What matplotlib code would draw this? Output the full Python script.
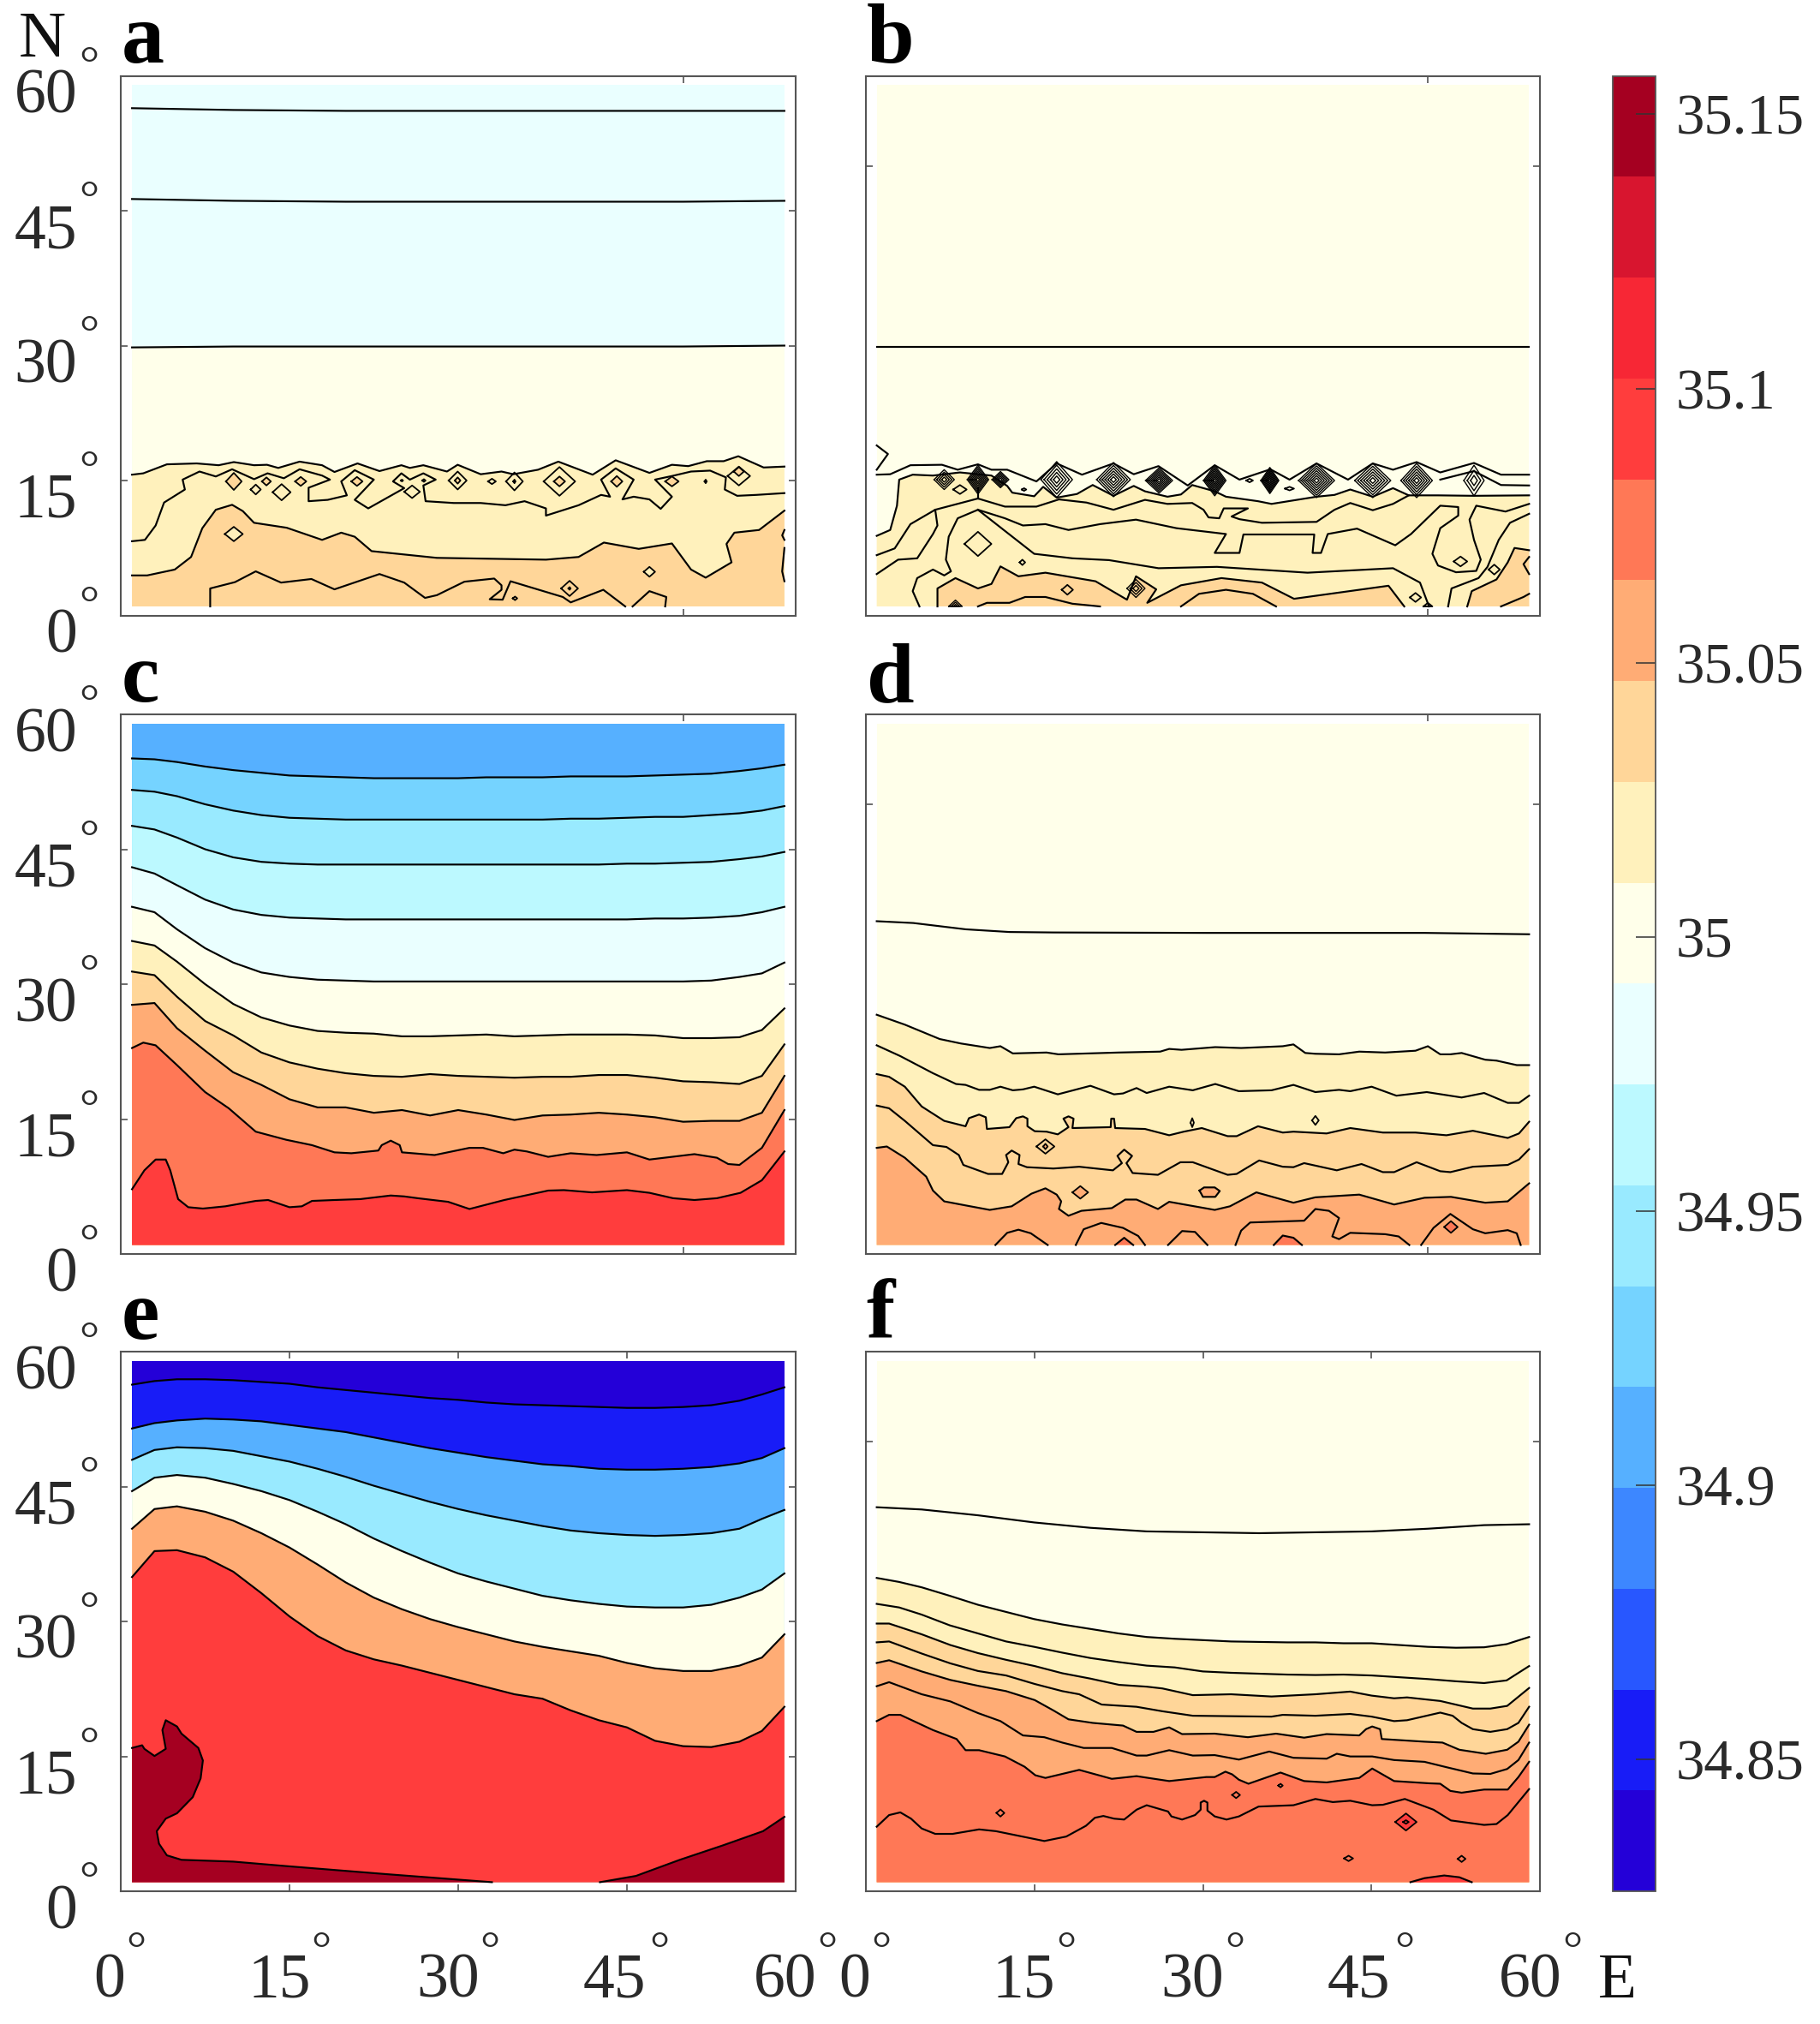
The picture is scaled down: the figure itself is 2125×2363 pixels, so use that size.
import numpy as np
import matplotlib
matplotlib.use("Agg")
import matplotlib.pyplot as plt
from matplotlib.cm import ScalarMappable
from matplotlib.colors import BoundaryNorm, ListedColormap

plt.rcParams['font.family'] = ['Liberation Serif', 'DejaVu Serif']

W, H = 2125, 2363

band_rgb = [(36, 0, 216), (24, 28, 247), (40, 87, 255), (61, 135, 255), (86, 176, 255), (117, 211, 255),
            (153, 234, 255), (188, 249, 255), (234, 255, 255), (255, 255, 234), (255, 241, 188), (255, 214, 153),
            (255, 172, 117), (255, 120, 86), (255, 61, 61), (247, 39, 53), (216, 21, 47), (165, 0, 33)]
cbar_ticks = [34.85, 34.9, 34.95, 35, 35.05, 35.1, 35.15]
cbar_labels = ['34.85', '34.9', '34.95', '35', '35.05', '35.1', '35.15']

# common longitudes for the smooth isolines
g = [1, 3, 5, 7.5, 10, 12.5, 15, 17.5, 20, 22.5, 25, 27.5, 30, 32.5, 35, 37.5, 40, 42.5, 45, 47.5, 50, 52.5, 55, 57, 59]
g13 = [1, 5, 10, 15, 20, 25, 30, 35, 40, 45, 50, 55, 59]
ends = [1, 10, 20, 30, 40, 50, 59]

# panel a
a_top1 = [56.4, 56.2, 56.1, 56.1, 56.1, 56.1, 56.1]
a_top2 = [46.3, 46.1, 46.0, 46.0, 46.0, 46.0, 46.1]
a_top3 = [29.8, 29.9, 29.9, 29.9, 29.9, 29.9, 30.0]
a3_lon = [1.0, 2.0, 4.1, 6.75, 8.7, 10.05, 11.85, 13.0, 14.0, 15.9, 17.9, 19.0, 21.05, 23.0, 24.95, 25.7, 26.9, 29.0, 29.95, 32.0, 33.85, 34.9, 37.1, 38.9, 41.95, 44.0, 47.0, 49.0, 50.45, 52.1, 53.6, 54.9, 57.15, 59.0]
a3_lat = [15.65, 15.8, 16.8, 16.9, 16.7, 17.05, 16.7, 16.75, 16.4, 17.1, 16.7, 15.95, 16.9, 16.05, 16.7, 16.4, 16.7, 16.0, 16.75, 15.7, 16.0, 15.7, 16.2, 17.1, 15.65, 17.25, 15.85, 16.75, 16.6, 17.15, 17.15, 17.7, 16.45, 16.55]
a4_lon = [59.0, 56.5, 54.8, 53.7, 53.8, 52.4, 50.7, 49.0, 47.5, 49.0, 48.0, 47.0, 45.6, 44.6, 45.6, 44.0, 42.7, 43.5, 42.7, 40.7, 37.8, 37.8, 35.9, 34.2, 32.0, 29.6, 27.1, 26.9, 28.0, 26.9, 25.7, 24.95, 24.2, 25.2, 22.0, 20.8, 22.5, 20.8, 19.6, 20.1, 18.4, 16.7, 16.7, 18.6, 17.9, 15.9, 14.5, 13.05, 11.85, 9.9, 8.45, 7.0, 5.5, 5.7, 3.85, 3.1, 2.15, 1.0]
a4_lat = [13.6, 13.4, 13.3, 14.0, 15.35, 16.1, 16.0, 15.5, 15.1, 13.2, 11.85, 12.9, 13.2, 12.9, 15.1, 16.35, 15.1, 13.2, 13.4, 12.25, 11.1, 11.9, 12.7, 12.25, 12.5, 12.5, 12.7, 14.45, 15.1, 15.8, 15.1, 15.8, 14.9, 14.15, 11.9, 12.85, 15.1, 16.15, 14.9, 13.35, 12.85, 12.7, 14.2, 15.1, 15.55, 16.25, 15.25, 15.8, 15.15, 16.25, 15.45, 16.0, 15.1, 14.0, 12.55, 10.0, 8.4, 8.25]
a5_lon = [1.0, 2.35, 4.8, 6.25, 7.25, 8.45, 9.9, 10.85, 11.85, 14.75, 17.9, 19.6, 20.8, 22.3, 28.1, 37.8, 40.7, 42.95, 46.05, 49.0, 50.7, 52.0, 54.3, 53.85, 54.55, 56.75, 59.0]
a5_lat = [4.45, 4.45, 5.1, 6.5, 9.7, 11.75, 12.3, 11.6, 10.3, 9.75, 8.4, 9.2, 8.75, 7.15, 6.4, 6.2, 6.5, 8.1, 7.4, 8.0, 5.1, 4.2, 5.9, 7.95, 9.2, 9.5, 11.65]
a6_lon = [7.95, 7.95, 10.15, 12.0, 14.25, 16.95, 19.0, 23.0, 25.2, 27.05, 28.1, 30.55, 33.2, 33.85, 33.85, 32.8, 33.95, 34.65, 39.3, 40.0, 42.9, 44.85]
a6_lat = [1.0, 3.0, 3.7, 4.9, 3.65, 4.05, 2.9, 4.6, 3.65, 1.95, 2.25, 3.75, 4.1, 3.35, 2.85, 1.8, 1.75, 3.8, 2.05, 1.45, 2.85, 1.0]
a7_lon = [45.5, 47.0, 48.5, 48.4]
a7_lat = [1.0, 2.7, 2.05, 1.0]
a8_lon = [59.0, 58.8, 59.0]
a8_lat = [9.5, 8.9, 8.4]
a9_lon = [59.0, 58.8, 59.0]
a9_lat = [7.5, 4.9, 3.8]
a_dia_lon = [10.05, 12.0, 12.95, 14.3, 16.0, 21.0, 25.0, 26.95, 25.9, 29.95, 29.95, 33.0, 35.0, 35.0, 39.0, 39.0, 44.1, 49.0, 52.0, 54.95, 54.95, 10.05, 47.0, 39.9, 39.9, 35.05]
a_dia_lat = [14.9, 14.0, 14.9, 13.7, 14.9, 14.9, 15.0, 15.0, 13.75, 15.0, 15.0, 14.9, 14.9, 14.9, 14.9, 14.9, 14.9, 14.9, 14.9, 15.5, 16.0, 9.05, 4.85, 3.0, 3.0, 1.9]
a_dia_hw = [0.7, 0.45, 0.4, 0.8, 0.5, 0.5, 0.1, 0.15, 0.7, 0.8, 0.25, 0.35, 0.75, 0.1, 1.4, 0.5, 0.5, 0.6, 0.1, 1.0, 0.45, 0.8, 0.5, 0.75, 0.1, 0.2]
a_dia_hh = [0.95, 0.55, 0.45, 0.9, 0.5, 0.5, 0.1, 0.15, 0.7, 1.0, 0.35, 0.3, 1.0, 0.2, 1.6, 0.55, 0.6, 0.55, 0.2, 1.05, 0.5, 0.8, 0.55, 0.85, 0.15, 0.2]
a_dia_band = [12, 0, 12, 0, 12, 12, 0, 0, 0, 0, 12, 0, 0, 12, 0, 12, 12, 12, 0, 0, 12, 11, 11, 0, 12, 0]

# panel b
b0_lat = [29.9, 29.9, 29.9, 29.9, 29.9, 29.9, 29.9]
b1_lon = [1.0, 2.2, 2.8, 3.0, 4.2, 6.0, 8.4, 11.2, 12.6, 13.05, 15.0, 15.8, 17.0, 18.8, 20.2, 22.05, 23.85, 24.85, 26.85, 28.05, 29.05, 31.05, 32.05, 34.9, 36.1, 38.1, 40.1, 41.7, 43.1, 45.1, 46.9, 48.3, 50.9, 54.1, 59.0]
b1_lat = [8.85, 9.5, 12.2, 15.1, 15.65, 15.55, 15.9, 15.55, 14.4, 13.65, 13.25, 14.3, 13.1, 13.5, 14.5, 13.3, 14.4, 13.8, 13.2, 13.45, 14.5, 13.8, 13.2, 12.7, 12.4, 12.8, 13.2, 13.4, 14.0, 13.2, 14.15, 13.35, 13.35, 13.3, 13.35]
bu1_lon = [1.0, 2.2, 4.0, 6.8, 8.2, 10.0, 11.2, 12.6, 15.2, 17.0, 19.25, 22.05, 23.85, 26.05, 28.65, 31.05, 33.25, 36.0, 37.7, 40.1, 42.9, 45.1, 46.9, 49.0, 51.1, 54.1, 56.5, 59.0]
bu1_lat = [15.65, 15.7, 16.7, 16.75, 16.2, 16.8, 16.2, 16.2, 14.9, 16.9, 15.65, 16.9, 15.7, 16.6, 14.45, 16.7, 15.1, 16.25, 15.1, 16.9, 15.1, 16.9, 16.2, 17.05, 15.9, 16.95, 15.65, 15.65]
bu2_lon = [51.1, 54.1, 56.5, 59.0]
bu2_lat = [15.1, 16.05, 14.5, 14.45]
bu3_lon = [1.0, 2.0, 1.0]
bu3_lat = [18.9, 17.95, 16.2]
b2_lon = [1.0, 2.6, 4.0, 6.2, 10.0, 12.4, 15.2, 17.2, 19.65, 22.05, 24.85, 26.85, 29.05, 30.05, 30.5, 31.45, 31.85, 34.0, 32.55, 33.25, 35.25, 40.1, 41.7, 43.1, 45.1, 46.9, 48.3]
b2_lat = [6.7, 7.45, 10.15, 11.75, 13.0, 12.1, 12.1, 12.9, 12.55, 11.75, 12.85, 12.4, 12.5, 11.75, 10.9, 10.8, 11.9, 11.9, 11.0, 10.7, 10.3, 10.4, 11.75, 12.5, 11.7, 12.4, 13.35]
bs_lon = [10.0, 10.0]
bs_lat = [14.1, 13.0]
b3_lon = [1.0, 2.9, 4.6, 6.0, 6.4, 6.2]
b3_lat = [4.6, 6.2, 6.35, 9.05, 10.0, 11.75]
b4_lon = [4.8, 4.2, 4.6, 6.0, 7.0, 7.6, 7.15, 7.4, 8.2, 10.0, 12.4, 14.0, 16.0, 18.05, 20.85, 24.05, 27.65, 32.05, 31.05, 33.25, 33.6, 39.9, 39.75, 40.5, 41.1, 43.7, 47.1, 48.5, 51.1, 52.7, 52.7, 51.1, 50.4, 50.9, 52.5, 54.3, 54.7, 54.1, 53.7, 54.3, 56.9, 59.0]
b4_lat = [1.0, 2.7, 4.15, 5.1, 4.45, 4.9, 6.2, 8.75, 10.8, 11.75, 10.8, 10.0, 10.15, 9.5, 10.15, 10.65, 9.7, 9.05, 6.95, 6.95, 9.0, 9.0, 6.95, 6.95, 9.05, 9.65, 7.8, 9.05, 12.2, 12.05, 11.1, 9.7, 6.85, 5.55, 4.8, 4.95, 6.2, 8.4, 10.65, 12.2, 11.55, 12.4]
b5_lon = [10.0, 12.6, 15.0, 18.4, 21.65, 26.05, 31.25, 39.3, 46.9, 49.3, 50.1]
b5_lat = [11.75, 9.2, 6.85, 6.35, 6.15, 5.25, 5.4, 4.75, 5.25, 3.65, 1.0]
b6_lon = [6.4, 6.4, 8.0, 10.0, 11.2, 12.0, 13.6, 16.0, 20.45, 23.25, 24.05, 25.85, 25.05, 28.05, 31.65, 35.25, 38.1, 46.5, 47.9]
b6_lat = [1.0, 3.0, 4.15, 3.0, 3.5, 5.45, 4.35, 4.75, 3.8, 1.75, 4.35, 2.9, 1.4, 3.35, 4.15, 3.65, 1.85, 3.3, 1.0]
b7_lon = [53.5, 53.9, 56.1, 57.1, 57.7, 59.0]
b7_lat = [1.0, 2.7, 4.0, 5.9, 7.5, 7.25]
b8_lon = [51.8, 52.1, 54.5, 55.3, 56.3, 57.3, 59.0]
b8_lat = [1.0, 3.0, 4.15, 5.4, 8.4, 10.3, 11.3]
b9_lon = [28.05, 29.65, 32.05, 34.45, 36.5]
b9_lat = [1.0, 2.4, 2.85, 2.4, 1.0]
b10_lon = [10.0, 10.8, 12.8, 14.2, 16.0, 18.4, 20.85]
b10_lat = [1.0, 1.4, 1.4, 2.05, 2.05, 1.3, 1.0]
b11_lon = [56.5, 58.5, 59.0]
b11_lat = [1.0, 2.05, 2.4]
b12_lon = [59.0, 58.5, 59.0]
b12_lat = [6.5, 5.7, 4.6]
b_dia_lon = [7.0, 10.0, 12.0, 17.0, 22.05, 26.1, 31.05, 35.95, 40.1, 45.1, 49.0, 54.1, 8.4, 14.1, 34.15, 37.7, 10.0, 13.95, 17.95, 24.05, 52.9, 55.9, 48.9, 8.0, 50.0]
b_dia_lat = [15.1, 15.1, 15.1, 15.1, 15.1, 15.0, 15.0, 15.0, 15.0, 15.0, 15.0, 15.0, 14.0, 14.0, 15.0, 14.1, 7.95, 5.9, 2.85, 3.0, 6.0, 5.1, 2.0, 1.0, 1.0]
b_dia_hw = [0.9, 0.95, 0.75, 1.4, 1.5, 1.2, 1.0, 0.8, 1.6, 1.6, 1.4, 0.9, 0.6, 0.2, 0.3, 0.4, 1.2, 0.25, 0.5, 0.8, 0.6, 0.5, 0.5, 0.6, 0.4]
b_dia_hh = [1.1, 1.6, 0.9, 2.0, 1.9, 1.4, 1.7, 1.45, 1.9, 1.9, 1.9, 1.7, 0.5, 0.15, 0.2, 0.2, 1.35, 0.3, 0.55, 1.0, 0.55, 0.55, 0.5, 0.7, 0.4]
b_dia_rings = [4, 7, 5, 5, 6, 7, 8, 8, 7, 6, 6, 3, 1, 1, 1, 1, 1, 1, 1, 3, 1, 1, 1, 3, 1]

# panel c
c1 = [55.1, 55.0, 54.7, 54.2, 53.8, 53.5, 53.2, 53.1, 53.0, 52.9, 52.9, 52.9, 52.9, 53.0, 53.0, 53.0, 53.1, 53.1, 53.1, 53.2, 53.3, 53.4, 53.7, 54.0, 54.4]
c2 = [51.6, 51.4, 50.9, 50.0, 49.3, 48.8, 48.5, 48.4, 48.3, 48.3, 48.3, 48.3, 48.3, 48.3, 48.3, 48.3, 48.4, 48.4, 48.5, 48.6, 48.6, 48.8, 49.0, 49.3, 49.8]
c3 = [47.6, 47.2, 46.3, 45.0, 44.1, 43.6, 43.4, 43.3, 43.3, 43.3, 43.3, 43.3, 43.3, 43.3, 43.3, 43.3, 43.3, 43.3, 43.4, 43.4, 43.5, 43.6, 43.9, 44.2, 44.7]
c4 = [43.0, 42.3, 41.0, 39.4, 38.3, 37.7, 37.4, 37.3, 37.2, 37.2, 37.2, 37.2, 37.2, 37.2, 37.2, 37.2, 37.2, 37.2, 37.2, 37.3, 37.3, 37.4, 37.6, 38.0, 38.6]
c5 = [38.6, 38.0, 36.1, 34.0, 32.4, 31.3, 30.8, 30.5, 30.4, 30.3, 30.3, 30.3, 30.3, 30.3, 30.3, 30.3, 30.3, 30.3, 30.3, 30.3, 30.3, 30.4, 30.8, 31.2, 32.4]
c6 = [34.8, 34.3, 32.5, 30.0, 27.8, 26.3, 25.4, 24.8, 24.6, 24.5, 24.2, 24.2, 24.3, 24.4, 24.2, 24.3, 24.4, 24.4, 24.4, 24.3, 24.0, 24.0, 24.1, 24.9, 27.3]
c7 = [31.4, 31.0, 28.6, 25.9, 24.3, 22.4, 21.3, 20.6, 20.1, 19.8, 19.7, 20.0, 19.8, 19.7, 19.6, 19.7, 19.7, 19.9, 19.9, 19.6, 19.2, 19.1, 18.9, 19.8, 23.3]
c8 = [27.7, 27.9, 25.1, 22.6, 20.2, 18.8, 17.2, 16.3, 16.3, 15.7, 16.0, 15.4, 16.0, 15.5, 14.9, 15.4, 15.5, 15.7, 15.5, 15.2, 14.7, 14.8, 14.8, 15.7, 19.8]
c9_lon = [1.0, 2.0, 3.1, 5.0, 7.5, 9.6, 12.0, 14.7, 17.0, 19.0, 20.5, 22.9, 23.2, 24.0, 24.8, 25.0, 27.9, 31.0, 32.2, 34.0, 35.0, 36.1, 38.0, 40.0, 42.3, 45.0, 47.0, 51.0, 53.0, 54.0, 55.0, 57.0, 59.0]
c9_lat = [22.9, 23.5, 23.2, 21.0, 18.0, 16.2, 13.6, 12.7, 12.1, 11.3, 11.2, 11.5, 12.1, 12.6, 12.1, 11.3, 11.0, 11.8, 11.8, 11.2, 11.6, 11.4, 10.8, 11.2, 11.0, 11.3, 10.5, 11.1, 10.7, 10.0, 9.9, 11.8, 16.0]
c10_lon = [1.0, 2.1, 3.1, 4.0, 4.4, 5.1, 6.0, 7.3, 9.3, 12.0, 13.1, 15.0, 16.1, 17.0, 19.0, 21.3, 24.0, 25.2, 26.4, 29.1, 31.0, 34.1, 38.0, 39.4, 41.9, 45.0, 47.0, 49.1, 51.0, 53.0, 55.1, 57.0, 59.0]
c10_lat = [7.2, 9.3, 10.5, 10.5, 9.3, 6.1, 5.2, 5.05, 5.3, 5.9, 6.0, 5.2, 5.3, 5.9, 6.0, 6.1, 6.5, 6.4, 6.2, 5.8, 5.0, 6.0, 7.05, 7.1, 6.85, 7.1, 6.8, 6.2, 6.0, 6.2, 6.8, 8.2, 11.4]

# panel d
d0_lon = [1.0, 4.25, 8.9, 12.8, 16.7, 30.3, 49.7, 59.0]
d0_lat = [37.0, 36.8, 36.1, 35.8, 35.75, 35.7, 35.7, 35.55]
d1_lon = [1.0, 3.5, 6.6, 8.5, 11.05, 12.0, 13.1, 16.1, 17.15, 22.5, 26.2, 27.0, 28.1, 31.1, 33.4, 37.1, 38.05, 39.1, 40.0, 42.1, 43.9, 46.2, 48.9, 50.0, 51.1, 52.0, 53.0, 55.1, 56.1, 57.9, 59.0]
d1_lat = [26.6, 25.5, 23.9, 23.4, 22.9, 23.1, 22.3, 22.4, 22.2, 22.4, 22.5, 22.8, 22.7, 23.0, 22.9, 23.1, 23.3, 22.35, 22.26, 22.2, 22.5, 22.4, 22.6, 23.1, 22.2, 22.2, 22.35, 21.6, 21.5, 21.0, 21.0]
d2_lon = [1.0, 3.1, 6.0, 8.05, 8.9, 10.1, 11.05, 12.0, 13.1, 14.0, 15.0, 17.1, 20.0, 22.1, 22.9, 24.1, 25.0, 27.0, 29.1, 31.1, 33.2, 36.1, 38.05, 40.0, 42.1, 43.1, 45.0, 47.2, 49.9, 53.0, 55.0, 57.1, 58.1, 59.0]
d2_lat = [23.2, 22.0, 20.1, 18.9, 18.8, 18.25, 18.25, 18.6, 18.2, 18.3, 18.6, 17.75, 18.7, 17.75, 17.85, 18.45, 17.9, 18.6, 18.2, 18.9, 18.1, 18.2, 18.8, 18.0, 18.25, 18.1, 18.6, 17.6, 18.0, 17.4, 17.9, 16.8, 16.8, 17.6]
d3_lon = [1.0, 2.1, 3.5, 5.0, 7.0, 8.9, 9.2, 10.1, 10.7, 10.8, 12.8, 13.4, 14.0, 14.4, 14.4, 15.05, 16.1, 17.1, 18.05, 17.6, 18.05, 18.5, 18.4, 21.8, 21.85, 22.1, 22.2, 24.85, 27.0, 28.3, 29.9, 32.2, 33.0, 34.9, 37.1, 38.05, 41.0, 43.1, 46.0, 48.9, 51.65, 54.0, 57.1, 58.1, 59.0]
d3_lat = [20.0, 19.7, 18.6, 16.4, 14.8, 14.2, 15.1, 15.5, 15.2, 13.9, 14.1, 15.1, 15.3, 15.05, 14.2, 13.65, 13.6, 13.3, 14.1, 15.05, 15.3, 15.05, 14.0, 14.1, 15.05, 15.05, 14.0, 13.9, 13.2, 13.6, 14.0, 13.1, 13.1, 14.2, 13.5, 13.6, 13.4, 14.0, 13.5, 13.5, 13.2, 13.7, 12.9, 13.4, 14.7]
d4_lon = [1.0, 2.1, 3.5, 6.0, 7.2, 8.3, 8.7, 10.9, 12.15, 12.7, 12.5, 13.0, 13.7, 13.6, 14.35, 16.7, 19.0, 22.0, 22.8, 22.4, 23.0, 23.7, 23.2, 23.75, 26.0, 28.0, 29.1, 32.2, 33.0, 35.0, 37.1, 38.05, 39.0, 41.9, 44.1, 46.0, 47.0, 49.0, 51.1, 52.0, 54.0, 57.1, 58.1, 59.0]
d4_lat = [16.5, 16.2, 14.8, 12.1, 11.9, 11.0, 9.9, 8.9, 8.9, 10.2, 11.0, 11.5, 11.0, 10.0, 9.65, 9.5, 9.7, 9.3, 10.1, 10.9, 11.6, 10.9, 10.1, 9.0, 8.8, 10.2, 10.2, 8.8, 8.9, 10.4, 9.7, 9.65, 10.1, 9.3, 10.0, 9.1, 9.1, 10.2, 9.2, 9.1, 9.7, 9.9, 10.5, 11.65]
d5_lon = [1.0, 1.9, 3.5, 5.4, 6.0, 7.0, 8.9, 11.05, 13.0, 14.75, 16.0, 17.0, 17.4, 17.2, 18.05, 19.2, 21.9, 23.1, 24.1, 26.0, 27.0, 31.05, 32.4, 34.75, 38.05, 40.0, 43.9, 47.0, 49.7, 52.05, 55.1, 57.1, 59.0]
d5_lat = [11.8, 11.95, 10.7, 8.6, 7.05, 5.85, 5.4, 4.9, 5.3, 6.7, 7.3, 6.6, 5.85, 5.0, 4.25, 4.8, 5.1, 6.05, 6.05, 5.0, 5.8, 4.9, 5.3, 6.85, 5.7, 6.3, 6.6, 5.5, 6.25, 6.35, 5.7, 5.85, 7.85]
db1_lon = [11.55, 12.6, 13.6, 14.7, 16.2]
db1_lat = [1.0, 2.35, 2.7, 2.3, 1.0]
db2_lon = [18.7, 19.4, 20.96, 22.9, 24.25, 24.85]
db2_lat = [1.0, 2.75, 3.45, 2.9, 2.0, 1.0]
db3_lon = [26.9, 28.15, 29.3, 30.4]
db3_lat = [1.0, 2.55, 2.45, 1.0]
db4_lon = [32.9, 33.4, 34.2, 39.0, 40.0, 41.2, 42.1, 41.5, 42.1, 43.1, 46.2, 47.4, 48.35]
db4_lat = [1.0, 2.6, 3.5, 3.7, 5.0, 4.8, 4.0, 1.95, 1.65, 2.35, 2.2, 1.95, 1.0]
db5_lon = [49.4, 50.5, 52.0, 54.0, 55.1, 57.1, 57.9, 58.25]
db5_lat = [1.0, 2.9, 4.45, 2.75, 2.3, 2.65, 2.3, 1.0]
db6_lon = [36.3, 37.1, 38.05, 38.8]
db6_lat = [1.0, 2.05, 1.8, 1.0]
db7_lon = [22.2, 23.0, 23.8]
db7_lat = [1.0, 1.8, 1.0]
d_hex_lon = [29.7, 30.1, 31.05, 31.5, 31.1, 30.0, 29.7]
d_hex_lat = [7.05, 7.4, 7.4, 7.0, 6.35, 6.35, 7.05]
d_dia_lon = [16.0, 16.0, 19.1, 40.0, 29.05, 52.05]
d_dia_lat = [11.95, 11.95, 6.85, 14.85, 14.6, 3.0]
d_dia_hw = [0.8, 0.2, 0.7, 0.3, 0.15, 0.6]
d_dia_hh = [0.8, 0.3, 0.7, 0.5, 0.5, 0.65]
d_dia_band = [0, 13, 13, 0, 0, 14]

# panel e
e1 = [56.3, 56.7, 56.9, 56.9, 56.8, 56.6, 56.4, 56.0, 55.7, 55.4, 55.1, 54.8, 54.6, 54.3, 54.1, 54.0, 53.9, 53.8, 53.7, 53.7, 53.8, 54.0, 54.5, 55.2, 56.0]
e2 = [51.4, 52.0, 52.3, 52.5, 52.4, 52.2, 51.8, 51.4, 51.0, 50.4, 49.8, 49.2, 48.7, 48.2, 47.8, 47.4, 47.2, 46.9, 46.8, 46.8, 46.9, 47.1, 47.5, 48.1, 49.2]
e3 = [47.9, 49.0, 49.3, 49.2, 48.9, 48.3, 47.7, 46.9, 46.0, 45.0, 44.1, 43.2, 42.4, 41.7, 41.1, 40.5, 40.0, 39.7, 39.5, 39.4, 39.5, 39.7, 40.2, 41.3, 42.3]
e4 = [44.4, 45.9, 46.2, 45.9, 45.2, 44.4, 43.4, 42.1, 40.7, 39.1, 37.7, 36.4, 35.2, 34.3, 33.5, 32.7, 32.2, 31.8, 31.5, 31.4, 31.4, 31.7, 32.5, 33.4, 35.2]
e5 = [40.2, 42.4, 42.7, 42.1, 41.1, 39.7, 38.1, 36.2, 34.2, 32.5, 31.2, 30.1, 29.2, 28.4, 27.6, 27.0, 26.5, 26.0, 25.2, 24.6, 24.3, 24.3, 24.9, 25.8, 28.4]
e6 = [34.8, 37.7, 37.8, 37.0, 35.4, 33.0, 30.4, 28.2, 26.6, 25.6, 24.9, 24.1, 23.3, 22.5, 21.7, 21.2, 19.9, 18.8, 18.0, 16.5, 15.9, 15.8, 16.4, 17.6, 20.3]
e7_lon = [1.0, 1.9, 2.1, 3.0, 4.0, 3.7, 4.0, 5.0, 5.4, 6.9, 7.3, 7.1, 6.4, 5.0, 4.0, 3.2, 3.4, 4.1, 5.4, 10.0, 14.7, 23.6, 33.0]
e7_lat = [15.7, 16.0, 15.6, 14.8, 15.6, 17.7, 18.8, 18.1, 17.3, 15.7, 14.3, 12.3, 10.2, 8.4, 7.8, 6.4, 5.0, 3.7, 3.2, 3.0, 2.5, 1.6, 0.7]
e8_lon = [42.6, 45.8, 49.7, 53.5, 57.1, 59.0]
e8_lat = [0.7, 1.4, 3.2, 4.8, 6.4, 8.0]

# panel f
f0 = [42.6, 42.35, 41.7, 40.9, 40.3, 39.9, 39.8, 39.7, 39.8, 39.9, 40.2, 40.6, 40.7]
f1 = [34.7, 34.25, 33.65, 32.7, 31.7, 30.9, 30.1, 29.5, 29.0, 28.5, 28.1, 27.9, 27.75, 27.6, 27.55, 27.5, 27.5, 27.4, 27.4, 27.2, 27.0, 26.9, 26.95, 27.3, 28.1]
f2 = [31.8, 31.4, 30.6, 29.4, 28.5, 27.6, 27.0, 26.35, 25.75, 25.3, 24.9, 24.7, 24.25, 24.1, 24.0, 23.9, 23.85, 23.9, 23.8, 23.6, 23.4, 23.15, 22.95, 23.25, 24.85]
f3_lon = [1.0, 2.1, 5.0, 7.55, 10.0, 12.5, 15.05, 17.5, 20.0, 22.55, 25.0, 26.4, 29.1, 32.5, 36.1, 40.0, 43.1, 45.0, 47.0, 48.15, 51.1, 54.0, 55.55, 57.05, 59.0]
f3_lat = [29.6, 29.6, 28.4, 27.2, 26.3, 25.55, 24.85, 24.05, 23.45, 22.75, 22.55, 22.35, 21.6, 21.7, 21.45, 21.7, 22.0, 21.55, 21.25, 21.35, 20.95, 20.1, 20.1, 20.4, 22.4]
f4_lon = [1.0, 2.1, 5.0, 7.55, 10.0, 12.5, 15.05, 17.5, 19.0, 21.0, 24.1, 26.4, 29.1, 32.5, 36.1, 37.1, 40.0, 43.1, 45.0, 47.0, 48.15, 51.1, 52.2, 53.0, 54.0, 55.55, 57.05, 58.05, 59.0]
f4_lat = [27.5, 27.6, 26.25, 25.15, 24.3, 23.8, 22.85, 22.05, 21.7, 20.55, 20.3, 19.8, 19.3, 19.25, 19.2, 19.4, 19.3, 19.5, 19.2, 18.7, 18.8, 19.65, 19.3, 18.5, 17.8, 17.5, 17.8, 18.5, 20.3]
f5_lon = [1.0, 2.1, 5.0, 7.55, 10.0, 12.5, 15.05, 16.7, 18.05, 20.2, 22.9, 24.1, 25.6, 27.0, 28.15, 31.05, 34.0, 36.5, 39.0, 41.0, 43.9, 44.5, 45.05, 45.75, 45.9, 49.7, 51.3, 52.8, 55.15, 57.05, 58.05, 59.0]
f5_lat = [25.2, 25.5, 24.25, 23.3, 22.65, 22.05, 21.05, 19.9, 18.9, 18.5, 18.2, 17.5, 17.5, 18.0, 17.25, 17.3, 16.9, 17.3, 16.85, 17.25, 17.1, 17.8, 18.1, 17.8, 16.7, 16.4, 16.3, 15.5, 15.05, 15.5, 16.4, 18.3]
f6_lon = [1.0, 2.1, 5.0, 7.55, 10.0, 12.0, 14.0, 15.9, 17.5, 19.4, 21.9, 24.1, 25.0, 27.0, 29.1, 31.05, 33.2, 35.9, 38.05, 41.0, 41.9, 43.1, 45.05, 47.0, 49.7, 51.65, 54.0, 55.55, 57.05, 58.05, 59.0]
f6_lat = [22.6, 23.05, 21.7, 20.9, 19.6, 18.7, 17.1, 16.9, 16.3, 15.7, 15.7, 14.85, 14.85, 15.45, 14.85, 14.9, 14.4, 15.3, 14.6, 14.5, 15.05, 14.75, 14.75, 14.35, 14.15, 13.55, 12.85, 12.8, 13.35, 14.35, 16.3]
f7_lon = [1.0, 2.1, 3.1, 6.0, 8.1, 8.9, 10.1, 12.4, 14.15, 15.1, 16.0, 19.0, 21.9, 24.1, 27.0, 30.3, 31.05, 32.0, 32.6, 33.2, 34.05, 36.9, 39.0, 41.0, 43.9, 45.05, 47.0, 50.1, 51.1, 52.0, 53.0, 55.0, 57.1, 58.05, 59.0]
f7_lat = [18.7, 19.4, 19.4, 17.7, 16.7, 15.45, 15.45, 14.75, 13.6, 12.65, 12.35, 13.25, 12.25, 12.55, 12.0, 12.45, 12.45, 13.05, 12.75, 12.15, 11.7, 12.95, 12.0, 11.85, 12.35, 13.4, 12.0, 11.75, 11.7, 10.9, 10.7, 11.05, 11.05, 12.45, 14.15]
f8_lon = [1.0, 2.1, 3.1, 4.05, 5.0, 6.2, 7.75, 10.1, 11.6, 15.9, 17.85, 19.6, 20.4, 21.15, 22.1, 23.0, 24.1, 25.0, 26.9, 27.2, 28.15, 29.3, 29.8, 29.8, 30.1, 30.4, 30.4, 31.05, 32.1, 33.2, 34.95, 38.05, 40.0, 41.55, 43.1, 45.05, 46.0, 47.95, 50.5, 52.05, 55.0, 56.1, 57.1, 59.0]
f8_lat = [6.9, 8.2, 8.5, 7.8, 6.7, 6.1, 6.1, 6.6, 6.4, 5.3, 5.8, 7.0, 7.9, 8.1, 7.8, 7.7, 8.8, 9.3, 8.6, 8.05, 7.7, 8.2, 8.8, 9.6, 9.8, 9.6, 8.7, 8.05, 7.7, 8.05, 9.15, 9.3, 10.0, 9.65, 9.8, 9.3, 9.35, 10.0, 8.8, 7.6, 7.1, 7.2, 8.2, 11.1]
f9_lon = [48.45, 49.7, 51.45, 52.8, 53.9]
f9_lat = [0.7, 1.15, 1.45, 1.25, 0.7]
f_dia_lon = [12.0, 32.95, 36.9, 48.05, 48.05, 42.95, 53.0]
f_dia_lat = [8.7, 10.7, 11.75, 7.7, 7.7, 3.65, 3.6]
f_dia_hw = [0.35, 0.35, 0.2, 0.95, 0.25, 0.4, 0.35]
f_dia_hh = [0.4, 0.35, 0.2, 0.95, 0.2, 0.3, 0.35]
f_dia_band = [0, 0, 0, 15, 0, 0, 0]


def fix(values):
    # e and f were read on a slightly wrong vertical scale
    return np.array(values) * 0.995 + 0.31


def colour(band):
    return np.array(band_rgb[band - 1]) / 255


def below(ax, lon, lat, band):
    ax.fill(list(lon) + [lon[-1], lon[0]], list(lat) + [1, 1], color=colour(band), lw=0, zorder=2)


def iso(ax, lon, lat):
    ax.plot(lon, np.maximum(lat, 1), color='k', lw=1.55, solid_joinstyle='round', zorder=3)


def band_line(ax, lon, lat, band=0):
    if band:
        below(ax, lon, np.maximum(lat, 1), band)
    iso(ax, lon, lat)


def diamonds(ax, lon, lat, hw, hh, bands=None, rings=None):
    for i in range(len(lon)):
        n = rings[i] if rings else 1
        for k in range(n):
            s = 1 - k / n
            xs = [lon[i] - hw[i] * s, lon[i], lon[i] + hw[i] * s, lon[i], lon[i] - hw[i] * s]
            ys = np.maximum([lat[i], lat[i] + hh[i] * s, lat[i], lat[i] - hh[i] * s, lat[i]], 1)
            if bands and bands[i]:
                ax.fill(xs, ys, color=colour(bands[i]), lw=0, zorder=3.5)
            ax.plot(xs, ys, color='k', lw=1.0 if n > 1 else 1.3, zorder=4)


def make_axes(left, top, xticks, yticks):
    ax = fig.add_axes([left / W, 1 - (top + 630) / H, 788 / W, 630 / H])
    ax.set_xlim(0, 60)
    ax.set_ylim(0, 60)
    ax.set_xticks(xticks)
    ax.set_yticks(yticks)
    ax.tick_params(direction='in', top=True, right=True, length=5.8, width=1.1, color='#444444',
                   labelbottom=False, labelleft=False)
    for s in ax.spines.values():
        s.set_color('#555555')
        s.set_linewidth(1.5)
    return ax


def base(ax, band):
    ax.fill([1, 59, 59, 1], [1, 1, 59, 59], color=colour(band), lw=0, zorder=1)


def write(ax, text, x, y, dx, dy, size, ha='center', weight='normal', color='#2a2a2a'):
    ax.annotate(text, xy=(x, y), xycoords='data', xytext=(dx, dy), textcoords='offset pixels', ha=ha, va='baseline',
                fontsize=size, fontweight=weight, color=color, annotation_clip=False, zorder=10)


fig = plt.figure(figsize=(W / 100, H / 100), dpi=100)

lefts = [141, 1010.5]
tops = [88.5, 834, 1578]
ax_a = make_axes(lefts[0], tops[0], [50], [15, 30, 45])
ax_b = make_axes(lefts[1], tops[0], [50], [50])
ax_c = make_axes(lefts[0], tops[1], [50], [15, 30, 45])
ax_d = make_axes(lefts[1], tops[1], [50], [50])
ax_e = make_axes(lefts[0], tops[2], [15, 30, 45], [15, 30, 45])
ax_f = make_axes(lefts[1], tops[2], [15, 30, 45], [50])

# a
base(ax_a, 9)
iso(ax_a, ends, a_top1)
iso(ax_a, ends, a_top2)
band_line(ax_a, ends, a_top3, 10)
band_line(ax_a, a3_lon, a3_lat, 11)
band_line(ax_a, a5_lon, a5_lat, 12)
iso(ax_a, a4_lon, a4_lat)
for lon, lat in [(a6_lon, a6_lat), (a7_lon, a7_lat), (a8_lon, a8_lat), (a9_lon, a9_lat)]:
    iso(ax_a, lon, lat)
diamonds(ax_a, a_dia_lon, a_dia_lat, a_dia_hw, a_dia_hh, a_dia_band)

# b
base(ax_b, 10)
iso(ax_b, ends, b0_lat)
band_line(ax_b, b1_lon, b1_lat, 11)
band_line(ax_b, b6_lon, b6_lat, 12)
band_line(ax_b, b7_lon, b7_lat, 12)
for lon, lat in [(bu1_lon, bu1_lat), (bu2_lon, bu2_lat), (bu3_lon, bu3_lat), (b2_lon, b2_lat), (bs_lon, bs_lat),
                 (b3_lon, b3_lat), (b4_lon, b4_lat), (b5_lon, b5_lat), (b8_lon, b8_lat), (b9_lon, b9_lat),
                 (b10_lon, b10_lat), (b11_lon, b11_lat), (b12_lon, b12_lat)]:
    iso(ax_b, lon, lat)
diamonds(ax_b, b_dia_lon, b_dia_lat, b_dia_hw, b_dia_hh, rings=b_dia_rings)

# c
base(ax_c, 5)
for lat, band in zip([c1, c2, c3, c4, c5, c6, c7, c8], [6, 7, 8, 9, 10, 11, 12, 13]):
    band_line(ax_c, g, lat, band)
band_line(ax_c, c9_lon, c9_lat, 14)
band_line(ax_c, c10_lon, c10_lat, 15)

# d
base(ax_d, 10)
iso(ax_d, d0_lon, d0_lat)
band_line(ax_d, d1_lon, d1_lat, 11)
iso(ax_d, d2_lon, d2_lat)
band_line(ax_d, d3_lon, d3_lat, 12)
iso(ax_d, d4_lon, d4_lat)
band_line(ax_d, d5_lon, d5_lat, 13)
for lon, lat in [(db1_lon, db1_lat), (db2_lon, db2_lat), (db3_lon, db3_lat), (db4_lon, db4_lat), (db5_lon, db5_lat)]:
    iso(ax_d, lon, lat)
band_line(ax_d, db6_lon, db6_lat, 14)
band_line(ax_d, db7_lon, db7_lat, 14)
ax_d.fill(d_hex_lon, d_hex_lat, color=colour(13), lw=0, zorder=3)
iso(ax_d, d_hex_lon, d_hex_lat)
diamonds(ax_d, d_dia_lon, d_dia_lat, d_dia_hw, d_dia_hh, d_dia_band)

# e
base(ax_e, 1)
for lat, band in zip([e1, e2, e3, e4, e5, e6], [2, 5, 7, 10, 13, 15]):
    band_line(ax_e, g, fix(lat), band)
band_line(ax_e, e7_lon, fix(e7_lat), 18)
band_line(ax_e, e8_lon, fix(e8_lat), 18)

# f
base(ax_f, 10)
iso(ax_f, g13, fix(f0))
band_line(ax_f, g, fix(f1), 11)
iso(ax_f, g, fix(f2))
band_line(ax_f, f3_lon, fix(f3_lat), 12)
iso(ax_f, f4_lon, fix(f4_lat))
band_line(ax_f, f5_lon, fix(f5_lat), 13)
iso(ax_f, f6_lon, fix(f6_lat))
band_line(ax_f, f7_lon, fix(f7_lat), 14)
iso(ax_f, f8_lon, fix(f8_lat))
band_line(ax_f, f9_lon, fix(f9_lat), 15)
diamonds(ax_f, f_dia_lon, f_dia_lat, f_dia_hw, f_dia_hh, f_dia_band)

# latitude labels with the degree circle placed apart from the number
for ax in [ax_a, ax_c, ax_e]:
    for lat in [0, 15, 30, 45, 60]:
        write(ax, str(lat), 0, lat, -51, -43, 53, ha='right')
        write(ax, '°', 0, lat, -37, -4, 42)

# longitude labels
lon_vals = [0, 15, 30, 45, 60]
lab_dx = [-13, -12, -12, -15, -12]
deg_dx = [18, 37, 37, 38, 37]
for ax in [ax_e, ax_f]:
    for lon, dx1, dx2 in zip(lon_vals, lab_dx, deg_dx):
        write(ax, str(lon), lon, 0, dx1, -124, 53)
        write(ax, '°', lon, 0, dx2, -86, 42)

write(ax_a, 'N', 0, 60, -119, 22, 55, ha='left', color='#111111')
write(ax_f, 'E', 60, 0, 90, -124, 53, color='#111111')

for ax, name in zip([ax_a, ax_b, ax_c, ax_d, ax_e, ax_f], 'abcdef'):
    write(ax, name, 0, 60, 1, 15, 72, ha='left', weight='bold', color='k')

# colour bar, 18 equal bands
bar_bounds = 34.826 + 0.01839 * np.arange(19)
cax = fig.add_axes([1883 / W, 1 - 2208 / H, 50 / W, (2208 - 88.5) / H])
cmap = ListedColormap([colour(i + 1) for i in range(18)])
cb = fig.colorbar(ScalarMappable(norm=BoundaryNorm(bar_bounds, 18), cmap=cmap), cax=cax, ticks=cbar_ticks,
                  spacing='proportional', drawedges=False)
cb.ax.minorticks_off()
cb.set_ticklabels(cbar_labels)
cb.ax.tick_params(direction='in', length=16.5, width=1.1, color='#333333', labelsize=48, labelcolor='#2a2a2a', pad=17)
cb.outline.set_edgecolor('#555555')
cb.outline.set_linewidth(1.3)

fig.savefig('out.png', dpi=100)
